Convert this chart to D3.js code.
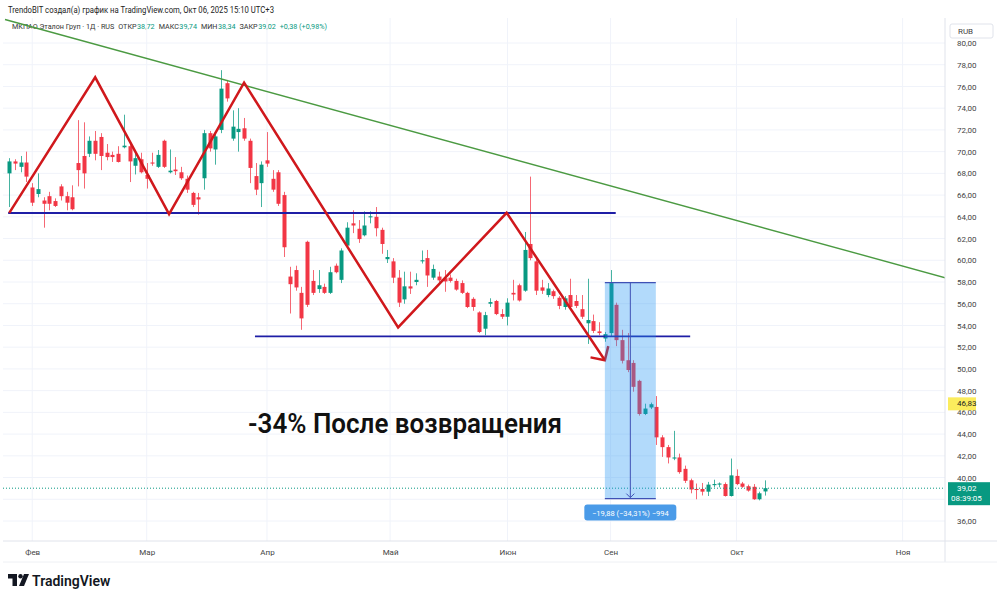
<!DOCTYPE html>
<html>
<head>
<meta charset="utf-8">
<script src="https://cdn.jsdelivr.net/npm/d3@7"></script>
<style>
body { margin: 0; background: #fff; }
text { font-family: Roboto, "Liberation Sans", sans-serif; }
</style>
</head>
<body>
<div id="chart"></div>
<script>
const width = 1000,
    height = 600,
    pane = {left: 3, right: 945, top: 18, bottom: 541};

// daily candles, МКПАО Эталон Груп
const opens = [68.0, 69.1, 68.6, 69.0, 66.7, 66.1, 65.5, 65.9, 65.45, 66.8, 65.9, 65.8, 68.95, 69.6, 69.8, 71.0, 71.35, 69.9, 69.7, 69.8,
    70.4, 70.5, 68.7, 69.3, 67.85, 69.0, 68.6, 71.0, 68.1, 68.35, 68.1, 67.5, 66.2, 65.8, 67.55, 71.7, 70.2, 72.0, 76.3, 71.2,
    71.8, 72.15, 71.0, 67.75, 67.1, 69.2, 67.5, 68.1, 66.0, 58.5, 59.1, 57.0, 61.7, 58.1, 57.35, 57.55, 57.0, 59.5, 58.2, 61.35,
    63.4, 62.9, 62.3, 63.95, 64.0, 62.8, 60.1, 59.9, 58.4, 56.4, 57.6, 58.0, 59.9, 60.2, 58.4, 58.5, 58.35, 58.4, 58.1, 57.9,
    57.0, 56.45, 55.2, 53.7, 56.0, 56.25, 55.05, 54.8, 57.0, 57.7, 57.2, 61.5, 59.9, 57.5, 56.8, 57.15, 56.55, 55.7, 56.8, 56.25,
    55.5, 54.2, 54.4, 53.45, 52.8, 53.3, 55.9, 52.65, 50.8, 50.55, 48.9, 45.85, 46.45, 46.5, 43.7, 42.8, 41.75, 41.85, 40.8, 39.75,
    38.95, 38.95, 38.7, 39.3, 39.35, 39.4, 38.3, 40.15, 39.45, 39.2, 39.15, 38.0, 38.72];
const highs = [69.4, 69.3, 69.6, 70.0, 67.1, 68.0, 65.8, 66.3, 65.7, 67.0, 66.3, 66.9, 72.9, 72.7, 71.4, 71.9, 71.7, 70.7, 70.0, 70.5,
    73.4, 70.8, 69.9, 69.9, 68.95, 69.9, 70.15, 71.1, 70.2, 69.5, 68.6, 67.8, 66.3, 66.2, 72.0, 71.9, 71.7, 77.5, 76.6, 73.8,
    74.0, 73.1, 71.2, 68.95, 69.1, 71.8, 68.3, 68.3, 66.3, 59.4, 59.5, 57.55, 61.8, 59.1, 59.1, 57.85, 59.4, 59.7, 61.1, 63.5,
    64.6, 63.7, 64.5, 64.5, 64.9, 63.0, 60.95, 60.2, 59.1, 58.95, 58.95, 58.8, 60.9, 60.95, 59.6, 58.95, 59.1, 58.7, 58.3, 58.15,
    57.1, 56.6, 55.3, 55.25, 56.5, 56.35, 55.5, 56.5, 58.2, 57.85, 62.6, 67.7, 60.1, 58.2, 57.9, 57.3, 56.7, 56.7, 58.3, 56.8,
    56.8, 58.3, 55.0, 54.3, 53.4, 59.1, 56.1, 53.6, 53.3, 50.8, 49.0, 46.8, 46.9, 47.5, 43.9, 43.0, 44.3, 42.2, 41.1, 39.9,
    39.45, 39.5, 39.6, 39.8, 39.55, 39.55, 41.75, 40.75, 39.6, 39.35, 39.4, 38.7, 39.74];
const lows = [64.9, 68.3, 68.1, 67.2, 65.0, 65.8, 63.0, 64.6, 64.9, 65.5, 64.6, 64.6, 66.8, 66.6, 69.5, 69.2, 68.3, 69.2, 69.05, 69.0,
    70.3, 67.2, 67.9, 68.0, 66.6, 68.7, 68.5, 68.5, 68.0, 67.85, 67.4, 66.2, 64.9, 64.2, 66.5, 70.0, 68.8, 71.7, 74.6, 71.0,
    70.0, 71.0, 67.1, 66.0, 64.9, 68.6, 66.3, 65.0, 60.3, 55.1, 57.2, 53.6, 55.7, 56.8, 57.0, 56.9, 56.9, 58.8, 57.9, 61.2,
    62.5, 61.6, 62.2, 63.4, 62.2, 60.6, 59.75, 57.9, 55.7, 56.0, 56.9, 57.7, 59.7, 57.55, 58.2, 57.95, 57.1, 57.95, 57.2, 56.9,
    55.6, 55.35, 53.3, 53.1, 55.7, 54.95, 54.6, 54.0, 56.3, 56.2, 57.1, 60.0, 56.8, 56.9, 56.6, 56.45, 55.5, 55.45, 55.5, 55.6,
    54.6, 52.3, 53.3, 53.1, 52.5, 53.0, 52.1, 50.5, 49.7, 47.9, 45.7, 45.75, 46.3, 43.0, 41.9, 41.3, 41.6, 40.35, 39.5, 38.55,
    38.0, 38.35, 38.3, 39.1, 39.1, 38.25, 38.25, 39.3, 39.05, 38.7, 37.95, 37.9, 38.34];
const closes = [69.1, 68.9, 69.0, 67.7, 65.3, 66.55, 65.2, 65.2, 65.0, 65.9, 65.3, 64.7, 68.3, 68.0, 71.0, 69.8, 69.6, 69.5, 69.5, 69.05,
    70.55, 69.1, 69.4, 68.1, 67.5, 68.9, 69.7, 68.6, 68.25, 68.2, 67.55, 66.5, 65.1, 65.6, 71.7, 70.3, 71.4, 75.8, 74.9, 72.3,
    72.1, 71.2, 68.5, 66.5, 68.8, 68.9, 66.5, 65.2, 61.2, 57.8, 57.5, 54.65, 55.9, 57.0, 57.7, 57.0, 58.9, 58.9, 60.9, 63.0,
    63.2, 61.95, 63.2, 64.05, 62.95, 61.5, 60.3, 58.4, 56.1, 57.6, 57.4, 58.2, 60.0, 58.6, 59.2, 58.15, 58.05, 58.1, 57.3, 57.0,
    55.7, 55.7, 53.4, 54.95, 56.15, 55.05, 54.8, 56.1, 56.85, 56.3, 60.95, 60.2, 57.2, 57.2, 57.4, 56.7, 55.8, 56.5, 55.7, 55.8,
    54.8, 54.5, 53.5, 53.3, 53.2, 57.9, 52.65, 50.75, 49.9, 48.35, 45.85, 46.35, 46.75, 43.7, 42.8, 41.85, 41.85, 40.5, 39.7, 38.9,
    38.85, 38.7, 39.35, 39.4, 39.45, 38.3, 40.2, 39.4, 39.15, 38.8, 38.0, 38.55, 39.02];

// time axis (bar index of first bar in month)
const monthLabels = ["Фев", "Мар", "Апр", "Май", "Июн", "Сен", "Окт", "Ноя"];
const monthIdx = [4, 24, 45, 66.5, 87, 105, 127, 156];

// price axis
const priceTicks = [80, 78, 76, 74, 72, 70, 68, 66, 64, 62, 60, 58, 56, 54, 52, 50, 48, 46, 44, 42, 40, 36];
const gridPrices = [80, 78, 76, 74, 72, 70, 68, 66, 64, 62, 60, 58, 56, 54, 52, 50, 48, 46, 44, 42, 40, 38, 36];

// legend line: [text, is value]
const legendParts = [["МКПАО Эталон Груп · 1Д · RUS", false], ["ОТКР", false], ["38,72", true],
    ["МАКС", false], ["39,74", true], ["МИН", false], ["38,34", true],
    ["ЗАКР", false], ["39,02", true], ["+0,38 (+0,98%)", true]];

// drawings: [bar index, price]
const trendLine = [[-0.75, 82.16], [164.3, 58.27]];
const neckTop = [[-0.2, 64.35], [105.9, 64.35]];
const neckLow = [[42.9, 53.0], [118.9, 53.0]];
const zigzag = [[0, 64.37], [15, 76.84], [27.9, 64.25], [41, 76.35], [67.9, 53.82], [86.85, 64.37], [104, 50.8]];
const zigzagHead = [[101.5, 51.06], [104, 50.8], [104.6, 52.1]];
const rangeIdx = [104, 112.9];
const rangePrice = [57.94, 38.06];
const rangeLabel = "\u221219,88 (\u221234,31%) \u2212994";
const lastPrice = 39.02;
const markPrice = 46.83;

const upColor = "#089981",
    downColor = "#f23645";

let x = d3.scaleLinear()
    .domain([-1.1, 163.4])
    .range([pane.left, pane.right]);

let y = d3.scaleLinear()
    .domain([36, 80])
    .range([521, 43]);

const fmt = d => d.toFixed(2).replace(".", ",");

let svg = d3.select("#chart").append("svg")
    .attr("width", width)
    .attr("height", height)
    .style("background", "#fff");

svg.append("defs").append("clipPath")
    .attr("id", "pane")
  .append("rect")
    .attr("x", pane.left)
    .attr("y", pane.top)
    .attr("width", pane.right - pane.left)
    .attr("height", pane.bottom - pane.top);

// header
svg.append("text")
    .attr("x", 8)
    .attr("y", 13)
    .attr("font-size", 9.5)
    .attr("fill", "#222")
    .attr("textLength", 266)
    .attr("lengthAdjust", "spacingAndGlyphs")
    .text("TrendoBIT создал(а) график на TradingView.com, Окт 06, 2025 15:10 UTC+3");

// legend: lay parts out one after the other
let legendX = 12;
let legend = svg.append("g");
legendParts.forEach((p, i) => {
    let t = legend.append("text")
        .attr("x", legendX)
        .attr("y", 29)
        .attr("font-size", 7.2)
        .attr("fill", p[1] ? upColor : "#333")
        .text(p[0]);
    legendX += t.node().getComputedTextLength() + (p[1] || i === 0 ? 4 : 0.5);
});

// grid
let grid = svg.append("g").attr("clip-path", "url(#pane)");
grid.selectAll("line.h")
    .data(gridPrices)
    .join("line")
    .attr("x1", pane.left).attr("x2", pane.right)
    .attr("y1", d => y(d)).attr("y2", d => y(d))
    .attr("stroke", "#f0f3fa");
grid.selectAll("line.v")
    .data(monthIdx)
    .join("line")
    .attr("class", "v")
    .attr("x1", d => x(d)).attr("x2", d => x(d))
    .attr("y1", pane.top).attr("y2", pane.bottom)
    .attr("stroke", "#f0f3fa");

// candles
let plot = svg.append("g").attr("clip-path", "url(#pane)");
const candles = closes.map((c, i) => ({i: i, o: opens[i], h: highs[i], l: lows[i], c: c}));
const bodyW = 4;

let candle = plot.selectAll("g.candle")
    .data(candles)
    .join("g")
    .attr("class", "candle")
    .attr("fill", d => d.c >= d.o ? upColor : downColor)
    .attr("stroke", d => d.c >= d.o ? upColor : downColor);

candle.append("line")
    .attr("x1", d => Math.round(x(d.i)) + 0.5)
    .attr("x2", d => Math.round(x(d.i)) + 0.5)
    .attr("y1", d => y(d.h))
    .attr("y2", d => y(d.l))
    .attr("stroke-width", 1)
    .attr("stroke-opacity", 0.75);

candle.append("rect")
    .attr("x", d => Math.round(x(d.i)) + 0.5 - bodyW / 2)
    .attr("y", d => y(Math.max(d.o, d.c)))
    .attr("width", bodyW)
    .attr("height", d => Math.max(1, Math.abs(y(d.o) - y(d.c))))
    .attr("stroke", "none");

// last price dotted line
plot.append("line")
    .attr("x1", pane.left).attr("x2", pane.right)
    .attr("y1", y(lastPrice)).attr("y2", y(lastPrice))
    .attr("stroke", upColor)
    .attr("stroke-width", 1)
    .attr("stroke-dasharray", "1,2");

const line = d3.line().x(d => x(d[0])).y(d => y(d[1]));

// drawings
let draw = svg.append("g").attr("clip-path", "url(#pane)");

draw.append("path")
    .attr("d", line(trendLine))
    .attr("fill", "none")
    .attr("stroke", "#4b9a42")
    .attr("stroke-width", 1.4);

[neckTop, neckLow].forEach(l => {
    draw.append("path")
        .attr("d", line(l))
        .attr("fill", "none")
        .attr("stroke", "#1e1ea6")
        .attr("stroke-width", 1.8);
});

draw.append("path")
    .attr("d", line(zigzag))
    .attr("fill", "none")
    .attr("stroke", "#d0181c")
    .attr("stroke-width", 2.5)
    .attr("stroke-linejoin", "miter");

draw.append("path")
    .attr("d", line(zigzagHead))
    .attr("fill", "none")
    .attr("stroke", "#d0181c")
    .attr("stroke-width", 2.5)
    .attr("stroke-linejoin", "miter");

// price range
let rx0 = x(rangeIdx[0]), rx1 = x(rangeIdx[1]),
    ry0 = y(rangePrice[0]), ry1 = y(rangePrice[1]),
    rmid = (rx0 + rx1) / 2;

draw.append("rect")
    .attr("x", rx0).attr("y", ry0)
    .attr("width", rx1 - rx0).attr("height", ry1 - ry0)
    .attr("fill", "rgba(33,150,243,0.35)");

[ry0, ry1].forEach(v => {
    draw.append("line")
        .attr("x1", rx0).attr("x2", rx1)
        .attr("y1", v).attr("y2", v)
        .attr("stroke", "#3f51b5")
        .attr("stroke-width", 1.3);
});

draw.append("line")
    .attr("x1", rmid).attr("x2", rmid)
    .attr("y1", ry0).attr("y2", ry1 - 1)
    .attr("stroke", "#3f51b5")
    .attr("stroke-width", 1);

draw.append("path")
    .attr("d", `M${rmid - 4},${ry1 - 5}L${rmid},${ry1 - 1}L${rmid + 4},${ry1 - 5}`)
    .attr("fill", "none")
    .attr("stroke", "#3f51b5")
    .attr("stroke-width", 1);

svg.append("rect")
    .attr("x", rmid - 46).attr("y", ry1 + 6)
    .attr("width", 92).attr("height", 16)
    .attr("rx", 3)
    .attr("fill", "#4a9be8");

svg.append("text")
    .attr("x", rmid).attr("y", ry1 + 17)
    .attr("text-anchor", "middle")
    .attr("font-size", 7.5)
    .attr("fill", "#fff")
    .text(rangeLabel);

// caption
svg.append("text")
    .attr("x", 248)
    .attr("y", 433)
    .attr("font-size", 27)
    .attr("font-weight", 600)
    .attr("fill", "#111")
    .attr("textLength", 314)
    .attr("lengthAdjust", "spacingAndGlyphs")
    .text("-34% После возвращения");

// frame
svg.append("line")
    .attr("x1", pane.right).attr("x2", pane.right)
    .attr("y1", pane.top).attr("y2", 562)
    .attr("stroke", "#e0e3eb");
svg.append("line")
    .attr("x1", pane.left).attr("x2", 997)
    .attr("y1", pane.bottom).attr("y2", pane.bottom)
    .attr("stroke", "#e0e3eb");
svg.append("line")
    .attr("x1", pane.left).attr("x2", 997)
    .attr("y1", 562).attr("y2", 562)
    .attr("stroke", "#eef0f4");

// price axis
let yAxis = svg.append("g")
    .attr("transform", `translate(${pane.right + 10},0)`)
    .call(d3.axisRight(y).tickValues(priceTicks).tickFormat(fmt).tickSize(0).tickPadding(2));
yAxis.select(".domain").remove();
yAxis.selectAll("text")
    .attr("font-size", 8)
    .attr("fill", "#444")
    .attr("font-family", "Roboto, sans-serif");

svg.append("rect")
    .attr("x", 950).attr("y", 24)
    .attr("width", 43).attr("height", 14)
    .attr("rx", 2)
    .attr("fill", "#fff")
    .attr("stroke", "#e0e3eb");
svg.append("text")
    .attr("x", 958).attr("y", 34)
    .attr("font-size", 8)
    .attr("fill", "#444")
    .text("RUB");

svg.append("rect")
    .attr("x", 948).attr("y", y(markPrice) - 6)
    .attr("width", 28).attr("height", 13)
    .attr("fill", "#fbec5d");
svg.append("text")
    .attr("x", 957).attr("y", y(markPrice) + 3)
    .attr("font-size", 8)
    .attr("fill", "#222")
    .text(fmt(markPrice));

svg.append("rect")
    .attr("x", 948).attr("y", y(lastPrice) - 6)
    .attr("width", 42).attr("height", 23)
    .attr("fill", upColor);
svg.append("text")
    .attr("x", 957).attr("y", y(lastPrice) + 3)
    .attr("font-size", 8)
    .attr("fill", "#fff")
    .text(fmt(lastPrice));
svg.append("text")
    .attr("x", 951).attr("y", y(lastPrice) + 13)
    .attr("font-size", 8)
    .attr("fill", "#fff")
    .text("08:39:05");

// time axis
let xAxis = svg.append("g")
    .attr("transform", `translate(0,${pane.bottom + 5})`)
    .call(d3.axisBottom(x).tickValues(monthIdx).tickFormat((d, i) => monthLabels[i]).tickSize(0).tickPadding(3));
xAxis.select(".domain").remove();
xAxis.selectAll("text")
    .attr("font-size", 8)
    .attr("fill", "#444")
    .attr("font-family", "Roboto, sans-serif");

// TradingView logo
let logo = svg.append("g").attr("fill", "#131722");
logo.append("path").attr("d", "M8,574h9v12h-4.5v-7.5H8z");
logo.append("circle").attr("cx", 20.5).attr("cy", 576.2).attr("r", 2.2);
logo.append("path").attr("d", "M24,574h5l-5,12h-5z");
svg.append("text")
    .attr("x", 32)
    .attr("y", 586)
    .attr("font-size", 14)
    .attr("font-weight", 600)
    .attr("fill", "#131722")
    .text("TradingView");
</script>
</body>
</html>
